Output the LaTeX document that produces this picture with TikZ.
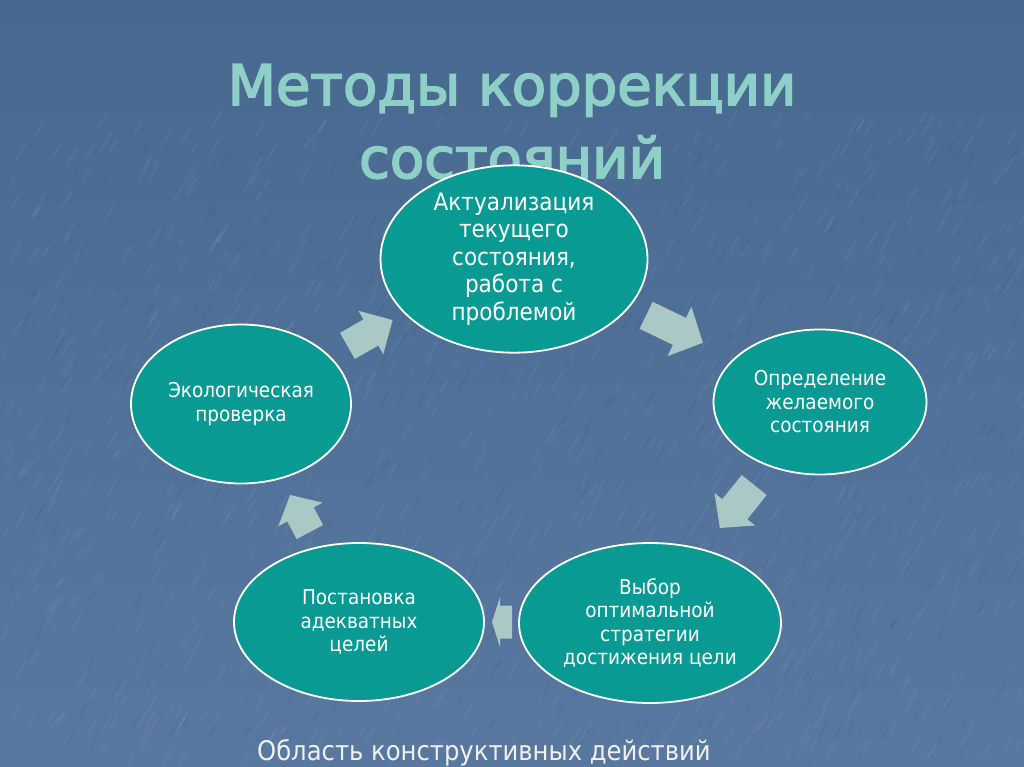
\documentclass[tikz,border=0pt]{standalone}
\usepackage{fontspec}
\setmainfont{DejaVu Sans Condensed}
\newfontfamily\titlefont[FakeBold=3]{DejaVu Sans}
\usetikzlibrary{shapes.geometric}
\definecolor{bgtop}{HTML}{48698F}
\definecolor{bgbot}{HTML}{5878A0}
\definecolor{ovalfill}{HTML}{0A9A94}
\definecolor{arrowc}{HTML}{A9C8C6}
\definecolor{titlec}{HTML}{8ECFC8}
\newcommand\blkarrow[7]{%
  \begin{scope}[shift={(#1,#2)}, rotate=#3]
    \fill[arrowfill] (-#4/2,-#5/2) -- (#4/2-#7,-#5/2) -- (#4/2-#7,-#6/2) -- (#4/2,0)
      -- (#4/2-#7,#6/2) -- (#4/2-#7,#5/2) -- (-#4/2,#5/2) -- cycle;
  \end{scope}}
\begin{document}
\begin{tikzpicture}[x=1pt,y=-1pt,
  oval/.style={ellipse, fill=ovalfill, draw=white, line width=1.8pt, inner sep=0pt, align=center, text=white},
  arrowfill/.style={fill=arrowc, draw=none},
  titletext/.style={font=\titlefont\fontsize{56}{64}\selectfont, anchor=base, text=titlec, inner sep=0pt},
  smalltext/.style={font=\fontsize{20.5}{23.5}\selectfont}]
\useasboundingbox (0,0) rectangle (1024,767);
\shade[top color=bgtop, bottom color=bgbot] (0,0) rectangle (1024,767);
% texture
\pgfmathsetseed{12}
\foreach \i in {1,...,900}{
  \pgfmathsetmacro\xx{rnd*1024}
  \pgfmathsetmacro\yy{120+rnd*647}
  \pgfmathsetmacro\ll{5+rnd*14}
  \draw[white, opacity=0.045, line width=2.2pt, line cap=round] (\xx,\yy) -- ++(0.6*\ll,-\ll);
}
\foreach \i in {1,...,400}{
  \pgfmathsetmacro\xx{rnd*1024}
  \pgfmathsetmacro\yy{150+rnd*617}
  \pgfmathsetmacro\ll{5+rnd*12}
  \draw[black, opacity=0.04, line width=2pt, line cap=round] (\xx,\yy) -- ++(0.6*\ll,-\ll);
}
% title
\node[titletext] (title1) at (512,105) {Методы коррекции};
\node[titletext] (title2) at (512,178) {состояний};
% ovals
\node[oval, minimum width=267pt, minimum height=156pt, font=\fontsize{24}{27.5}\selectfont] (n1) at (514,259)
  {Актуализация\\текущего\\состояния,\\работа с\\проблемой};
\node[oval, smalltext, minimum width=213pt, minimum height=145pt] (n2) at (820,402)
  {Определение\\желаемого\\состояния};
\node[oval, smalltext, minimum width=262pt, minimum height=160pt] (n3) at (650,623)
  {Выбор\\оптимальной\\стратегии\\достижения цели};
\node[oval, smalltext, minimum width=250pt, minimum height=158pt] (n4) at (359,622)
  {Постановка\\адекватных\\целей};
\node[oval, smalltext, minimum width=220pt, minimum height=159pt] (n5) at (241,404)
  {Экологическая\\проверка};
% block arrows
\blkarrow{370}{333}{29.7}{52}{30}{50}{25}
\blkarrow{674.5}{329}{-25.8}{63}{30}{55}{26}
\blkarrow{737}{506.5}{-128.7}{55}{32}{52}{24}
\blkarrow{502}{622}{180}{20}{33}{50}{8}
\blkarrow{300}{513.5}{118}{42}{30}{50}{22}
% caption
\node[anchor=base, font=\fontsize{27}{30}\selectfont, text=white!94!black] (caption) at (484,760)
  {Область конструктивных действий};
\end{tikzpicture}
\end{document}
